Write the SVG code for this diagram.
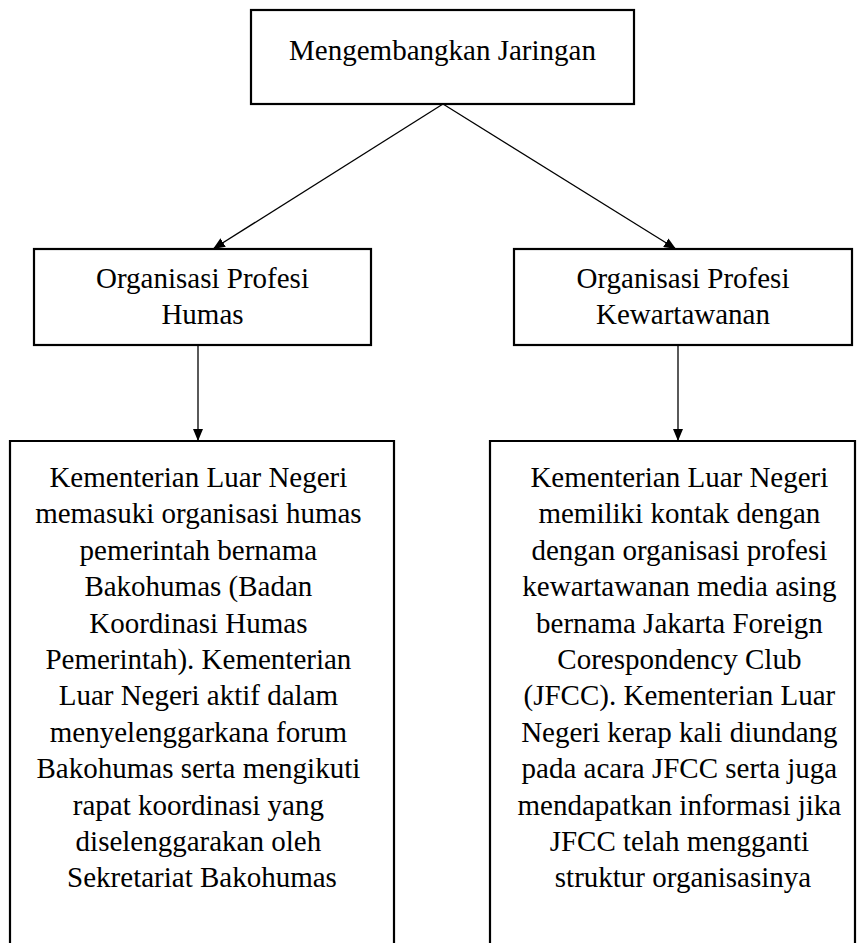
<svg xmlns="http://www.w3.org/2000/svg" width="866" height="943" viewBox="0 0 866 943">
<defs>
<marker id="ah" viewBox="0 0 12 10" refX="12" refY="5" markerWidth="12" markerHeight="10" markerUnits="userSpaceOnUse" orient="auto">
<path d="M0,0 L12,5 L0,10 Z" fill="#000"/>
</marker>
<style>
.box{fill:#fff;stroke:#000;stroke-width:2.2}
.t{font-family:"Liberation Serif","Times New Roman",serif;font-size:29px;fill:#000;text-anchor:middle}
.c{stroke:#000;stroke-width:1.3;fill:none}
</style>
</defs>
<rect width="866" height="943" fill="#fff"/>
<g id="connectors">
<line class="c" x1="443" y1="104" x2="213" y2="249" marker-end="url(#ah)"/>
<line class="c" x1="443" y1="104" x2="676" y2="249" marker-end="url(#ah)"/>
<line class="c" x1="198" y1="345" x2="198" y2="441" marker-end="url(#ah)"/>
<line class="c" x1="678" y1="345" x2="678" y2="441" marker-end="url(#ah)"/>
</g>
<g id="top">
<rect class="box" x="251" y="10" width="383" height="94"/>
<text class="t" x="442.5" y="60">Mengembangkan Jaringan</text>
</g>
<g id="humas">
<rect class="box" x="34" y="249" width="337" height="96"/>
<text class="t" x="202.5" y="288">Organisasi Profesi</text>
<text class="t" x="202.5" y="324">Humas</text>
</g>
<g id="kewartawanan">
<rect class="box" x="514" y="249" width="338" height="96"/>
<text class="t" x="683" y="288">Organisasi Profesi</text>
<text class="t" x="683" y="324">Kewartawanan</text>
</g>
<g id="humas-detail">
<path class="box" d="M10,950 V441 H394 V950"/>
<text class="t" x="202">
<tspan x="202" y="487">Kementerian Luar Negeri</tspan>
<tspan x="202" y="523.4">memasuki organisasi humas</tspan>
<tspan x="202" y="559.8">pemerintah bernama</tspan>
<tspan x="202" y="596.2">Bakohumas (Badan</tspan>
<tspan x="202" y="632.6">Koordinasi Humas</tspan>
<tspan x="202" y="669">Pemerintah). Kementerian</tspan>
<tspan x="202" y="705.4">Luar Negeri aktif dalam</tspan>
<tspan x="202" y="741.8">menyelenggarkana forum</tspan>
<tspan x="202" y="778.2">Bakohumas serta mengikuti</tspan>
<tspan x="202" y="814.6">rapat koordinasi yang</tspan>
<tspan x="202" y="851">diselenggarakan oleh</tspan>
<tspan x="202" y="887.4">Sekretariat Bakohumas</tspan>
</text>
</g>
<g id="kewartawanan-detail">
<path class="box" d="M490,950 V441 H855 V950"/>
<text class="t" x="683">
<tspan x="683" y="487">Kementerian Luar Negeri</tspan>
<tspan x="683" y="523.4">memiliki kontak dengan</tspan>
<tspan x="683" y="559.8">dengan organisasi profesi</tspan>
<tspan x="683" y="596.2">kewartawanan media asing</tspan>
<tspan x="683" y="632.6">bernama Jakarta Foreign</tspan>
<tspan x="683" y="669">Corespondency Club</tspan>
<tspan x="683" y="705.4">(JFCC). Kementerian Luar</tspan>
<tspan x="683" y="741.8">Negeri kerap kali diundang</tspan>
<tspan x="683" y="778.2">pada acara JFCC serta juga</tspan>
<tspan x="683" y="814.6">mendapatkan informasi jika</tspan>
<tspan x="683" y="851">JFCC telah mengganti</tspan>
<tspan x="683" y="887.4">struktur organisasinya</tspan>
</text>
</g>
</svg>
